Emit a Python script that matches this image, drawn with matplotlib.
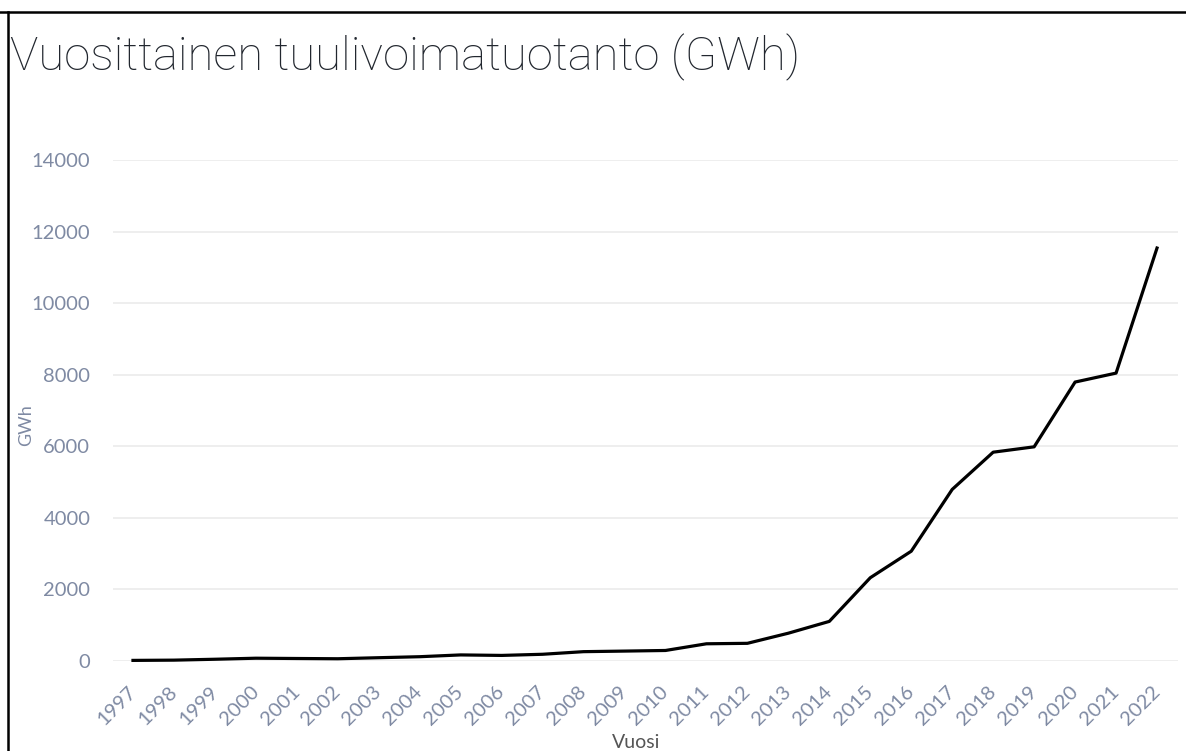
import matplotlib
matplotlib.use("Agg")
import matplotlib.pyplot as plt
from matplotlib.lines import Line2D

W, H = 1186, 751

years = [str(y) for y in range(1997, 2023)]
gwh = [17, 24, 49, 78, 70, 63, 92, 120, 170, 156, 188, 261, 277, 294,
       481, 494, 777, 1107, 2327, 3068, 4795, 5835, 5985, 7795, 8045, 11540]
yticks = [0, 2000, 4000, 6000, 8000, 10000, 12000, 14000]

TICK_COLOR = "#7f8aa3"
GRID_COLOR = "#ebebeb"

fig = plt.figure(figsize=(W / 100, H / 100), dpi=100)


def px(x, y):
    # pixel coords (from top-left) -> figure fraction
    return x / W, 1 - y / H


left, right = 112.5, 1177.5
top, bottom = 160, 661
ax = fig.add_axes([left / W, 1 - bottom / H, (right - left) / W, (bottom - top) / H])

x = list(range(len(years)))
ax.plot(x, gwh, color="black", lw=2.3, clip_on=False, zorder=3)

ax.set_xlim(-0.5, len(years) - 0.5)
ax.set_ylim(0, 14000)
ax.set_yticks(yticks)
ax.set_yticklabels([str(v) for v in yticks])
ax.set_xticks(x)
ax.set_xticklabels(years, rotation=45, ha="right", va="center", rotation_mode="anchor")

ax.grid(axis="y", color=GRID_COLOR, lw=1.2)
ax.set_axisbelow(True)
for s in ax.spines.values():
    s.set_visible(False)
ax.tick_params(axis="both", length=0, labelcolor=TICK_COLOR, labelsize=14.5)
ax.tick_params(axis="y", pad=16)
ax.tick_params(axis="x", pad=20)
for lbl in ax.get_xticklabels() + ax.get_yticklabels():
    lbl.set_family(["Lato", "DejaVu Sans"])

fig.text(*px(26, 425), "GWh", rotation=90, ha="center", va="center",
         color=TICK_COLOR, fontsize=13, family=["Lato", "DejaVu Sans"])
fig.text(*px(636, 742), "Vuosi", ha="center", va="center",
         color="#555555", fontsize=14, family=["Lato", "DejaVu Sans"])

fig.text(*px(10, 70), "Vuosittainen tuulivoimatuotanto (GWh)", ha="left", va="baseline",
         color="#22272f", fontsize=34, fontweight="light",
         family=["Roboto", "DejaVu Sans"])

# frame lines (top and left) from the screenshot
fig.add_artist(Line2D([0, 1], [1 - 12 / H] * 2, color="black", lw=1.8, transform=fig.transFigure))
fig.add_artist(Line2D([8 / W] * 2, [0, 1 - 12 / H], color="black", lw=1.8, transform=fig.transFigure))

fig.savefig("out.png", dpi=100)
